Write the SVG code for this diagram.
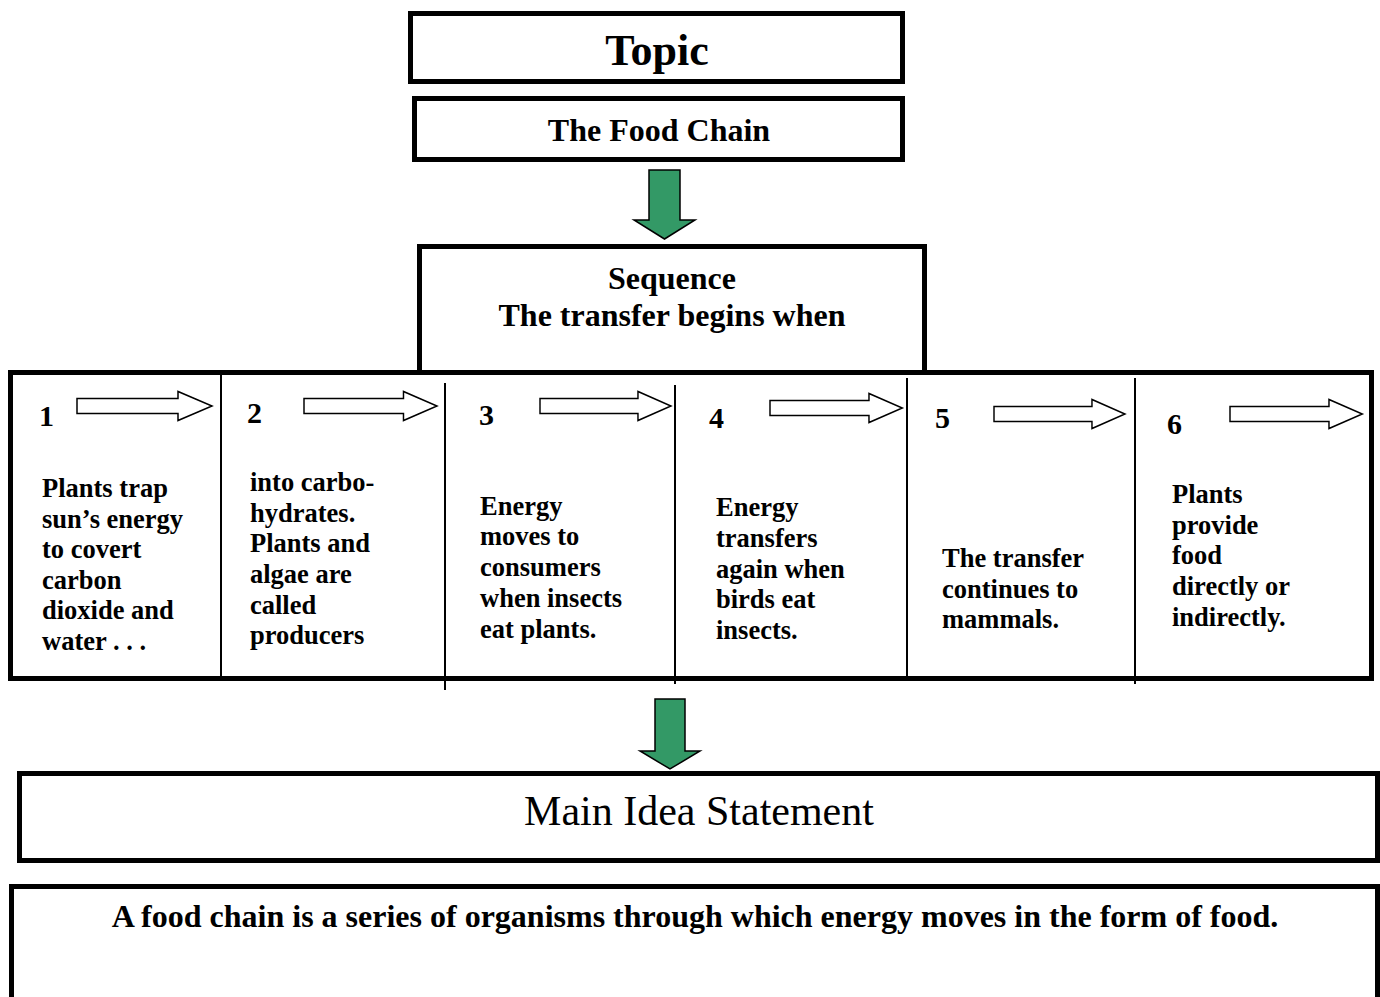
<svg xmlns="http://www.w3.org/2000/svg" width="1380" height="997" viewBox="0 0 1380 997">
  <style>
    .box { fill: #ffffff; stroke: #000000; stroke-width: 5; }
    .divider { stroke: #000000; stroke-width: 2; }
    .step-arrow { fill: #ffffff; stroke: #000000; stroke-width: 1.5; stroke-linejoin: miter; }
    .flow-arrow { fill: #339966; stroke: #000000; stroke-width: 1.5; }
    text { font-family: "Liberation Serif", "Times New Roman", serif; fill: #000000; }
    .b { font-weight: bold; }
    .title { font-size: 44px; text-anchor: middle; }
    .head { font-size: 32px; text-anchor: middle; }
    .num { font-size: 30px; }
    .cell { font-size: 26.5px; }
    .main { font-size: 42px; text-anchor: middle; font-weight: normal; }
  </style>
  <defs>
    <path id="stepArrow" d="M0,-7.5 H101 V-14.5 L135,0 L101,14.5 V7.5 H0 Z"/>
  </defs>

  <rect width="1380" height="997" fill="#ffffff"/>

  <!-- Topic -->
  <g id="topic">
    <rect class="box" x="410.5" y="13.5" width="492" height="68"/>
    <text class="b title" x="657" y="65">Topic</text>
  </g>

  <!-- Subject -->
  <g id="subject">
    <rect class="box" x="414.5" y="98.5" width="488" height="61"/>
    <text class="b head" x="659" y="141">The Food Chain</text>
  </g>

  <!-- Sequence header -->
  <g id="sequence">
    <rect class="box" x="419.5" y="246.5" width="505" height="126"/>
    <text class="b head" x="672" y="289">Sequence</text>
    <text class="b head" x="672" y="326">The transfer begins when</text>
  </g>

  <!-- Sequence table -->
  <g id="steps">
    <rect class="box" x="10.5" y="372.5" width="1361" height="306"/>
    <line class="divider" x1="221" y1="375" x2="221" y2="678"/>
    <line class="divider" x1="445" y1="383" x2="445" y2="690"/>
    <line class="divider" x1="675" y1="385" x2="675" y2="684"/>
    <line class="divider" x1="907" y1="378" x2="907" y2="680"/>
    <line class="divider" x1="1135" y1="378" x2="1135" y2="684"/>
  </g>

  <g id="step1">
    <text class="b num" x="39" y="426">1</text>
    <use href="#stepArrow" class="step-arrow" transform="translate(77,406)"/>
    <text class="b cell">
      <tspan x="42" y="497">Plants trap</tspan>
      <tspan x="42" y="527.5">sun’s energy</tspan>
      <tspan x="42" y="558">to covert</tspan>
      <tspan x="42" y="588.5">carbon</tspan>
      <tspan x="42" y="619">dioxide and</tspan>
      <tspan x="42" y="650">water . . .</tspan>
    </text>
  </g>

  <g id="step2">
    <text class="b num" x="247" y="423">2</text>
    <use href="#stepArrow" class="step-arrow" transform="translate(304,406) scale(0.985,1)"/>
    <text class="b cell">
      <tspan x="250" y="490.5">into carbo-</tspan>
      <tspan x="250" y="521.5">hydrates.</tspan>
      <tspan x="250" y="552">Plants and</tspan>
      <tspan x="250" y="583">algae are</tspan>
      <tspan x="250" y="613.5">called</tspan>
      <tspan x="250" y="644">producers</tspan>
    </text>
  </g>

  <g id="step3">
    <text class="b num" x="479" y="425">3</text>
    <use href="#stepArrow" class="step-arrow" transform="translate(540,406) scale(0.97,1)"/>
    <text class="b cell">
      <tspan x="480" y="514.5">Energy</tspan>
      <tspan x="480" y="545">moves to</tspan>
      <tspan x="480" y="576">consumers</tspan>
      <tspan x="480" y="606.5">when insects</tspan>
      <tspan x="480" y="637.5">eat plants.</tspan>
    </text>
  </g>

  <g id="step4">
    <text class="b num" x="709" y="428">4</text>
    <use href="#stepArrow" class="step-arrow" transform="translate(770,408) scale(0.98,1)"/>
    <text class="b cell">
      <tspan x="716" y="516">Energy</tspan>
      <tspan x="716" y="547">transfers</tspan>
      <tspan x="716" y="577.5">again when</tspan>
      <tspan x="716" y="608">birds eat</tspan>
      <tspan x="716" y="638.5">insects.</tspan>
    </text>
  </g>

  <g id="step5">
    <text class="b num" x="935" y="428">5</text>
    <use href="#stepArrow" class="step-arrow" transform="translate(994,414) scale(0.97,1)"/>
    <text class="b cell">
      <tspan x="942" y="567">The transfer</tspan>
      <tspan x="942" y="597.5">continues to</tspan>
      <tspan x="942" y="627.5">mammals.</tspan>
    </text>
  </g>

  <g id="step6">
    <text class="b num" x="1167" y="434">6</text>
    <use href="#stepArrow" class="step-arrow" transform="translate(1230,414) scale(0.98,1)"/>
    <text class="b cell">
      <tspan x="1172" y="503">Plants</tspan>
      <tspan x="1172" y="533.5">provide</tspan>
      <tspan x="1172" y="563.5">food</tspan>
      <tspan x="1172" y="594.5">directly or</tspan>
      <tspan x="1172" y="626">indirectly.</tspan>
    </text>
  </g>

  <!-- Main idea heading -->
  <g id="main-idea">
    <rect class="box" x="19.5" y="773.5" width="1358" height="87"/>
    <text class="main" x="699" y="825">Main Idea Statement</text>
  </g>

  <!-- Main idea statement -->
  <g id="statement">
    <rect class="box" x="11.5" y="886.5" width="1366" height="130"/>
    <text class="b head" x="695" y="927">A food chain is a series of organisms through which energy moves in the form of food.</text>
  </g>

  <!-- Connectors -->
  <g id="connectors">
    <path class="flow-arrow" d="M649,170 H680 V220 H695 L664.5,239 L634,220 H649 Z"/>
    <path class="flow-arrow" d="M655,699 H685 V751 H700 L670,769 L640,751 H655 Z"/>
  </g>
</svg>
